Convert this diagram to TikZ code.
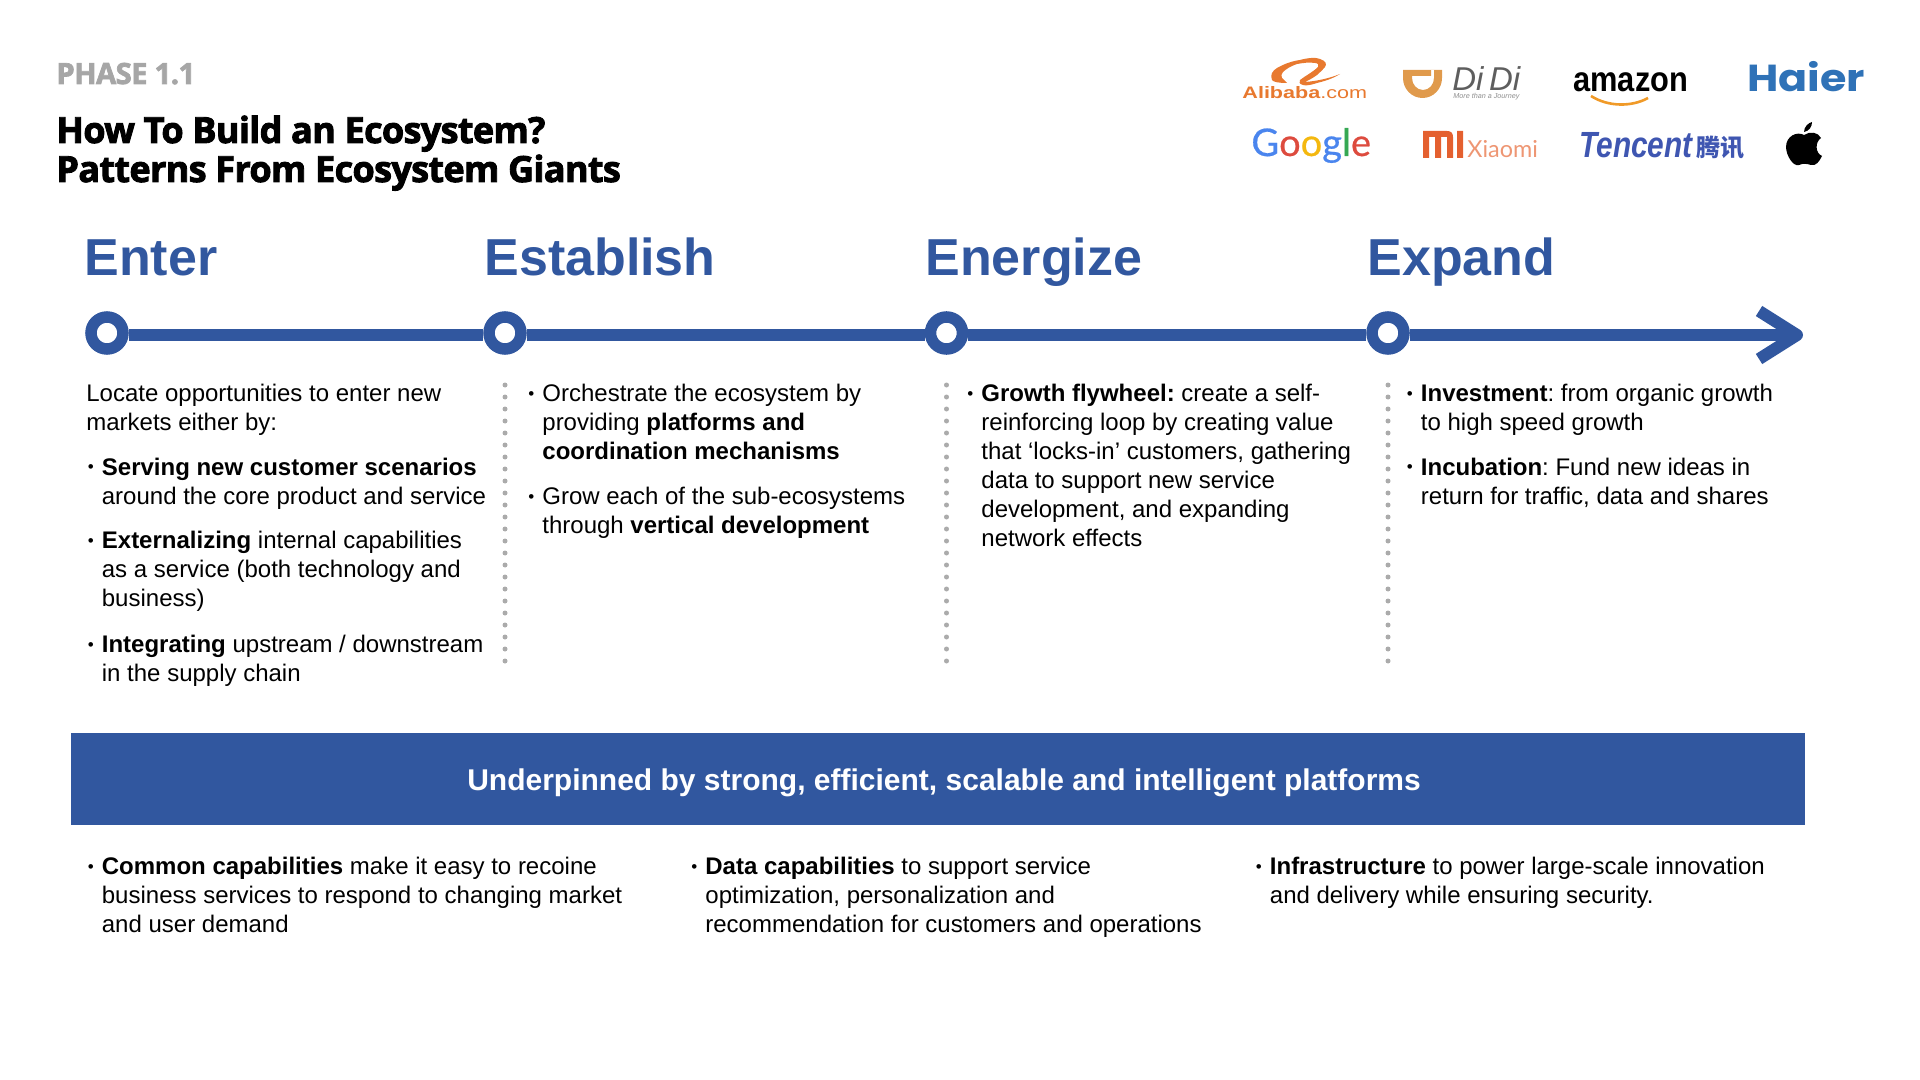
\documentclass[tikz,border=0pt]{standalone}
\usepackage{fontspec}
\setmainfont{Liberation Sans}
\newfontfamily\titlefont[FakeBold=2.5,LetterSpace=-1.8]{Open Sans}
\newfontfamily\googlefont[FakeBold=0.6]{Lato}
\newfontfamily\xiaomifont{Lato}
\newfontfamily\haierfont[FakeStretch=1.14]{Poppins}
\newfontfamily\widefont[FakeStretch=1.3]{Liberation Sans}
\newfontfamily\narrowfont[FakeStretch=0.82]{Liberation Sans}
\newfontfamily\amazonfont[FakeStretch=0.88]{Liberation Sans}
\newfontfamily\cjk{Noto Sans CJK SC}
\definecolor{planblue}{HTML}{31579F}
\definecolor{dotgrey}{HTML}{ABABAB}
\definecolor{phasegrey}{HTML}{A6A6A6}
\definecolor{aliorange}{HTML}{E8792F}
\definecolor{didiorange}{HTML}{E09A4C}
\definecolor{didigrey}{HTML}{5E5E5E}
\definecolor{amzorange}{HTML}{F09A28}
\definecolor{haierblue}{HTML}{2F72B7}
\definecolor{gblue}{HTML}{4A85EE}
\definecolor{gred}{HTML}{DD4B3E}
\definecolor{gyellow}{HTML}{F4B80F}
\definecolor{ggreen}{HTML}{35A853}
\definecolor{mired}{HTML}{E4602F}
\definecolor{mipale}{HTML}{EE9673}
\definecolor{tencentblue}{HTML}{3F56B1}
\newcommand{\blt}{\strut\llap{{\fontsize{8.5}{8}\selectfont\raisebox{1.2pt}{•}}\hspace{4pt}}}
\tikzset{
    bodytext/.style={align=left, anchor=north west, inner sep=0pt, font=\fontsize{12}{14.47}\selectfont},
    stagehead/.style={anchor=base west, inner sep=0pt, text=planblue, font=\fontsize{26}{30}\selectfont\bfseries},
    stagedot/.style={circle, draw=planblue, fill=white, line width=5.75pt, minimum size=16pt, inner sep=0pt},
    timeline/.style={draw=planblue, line width=6pt},
    dotrule/.style={draw=dotgrey, line width=2.5pt, line cap=round, dash pattern=on 0pt off 6pt},
    logotext/.style={anchor=base west, inner sep=0pt},
}
\begin{document}
\frenchspacing
\begin{tikzpicture}[x=0.5pt,y=-0.5pt]
    \useasboundingbox (0,0) rectangle (1920,1080);

    % Heading
    \node[anchor=base west, inner sep=0pt, text=phasegrey, font=\titlefont\fontsize{14.6}{16}\selectfont\bfseries] (phase) at (56,84) {PHASE 1.1};
    \node[anchor=base west, inner sep=0pt, font=\titlefont\fontsize{18}{19.5}\selectfont\bfseries] (titleone) at (56,143) {How To Build an Ecosystem?};
    \node[anchor=base west, inner sep=0pt, font=\titlefont\fontsize{18}{19.5}\selectfont\bfseries] (titletwo) at (56,182) {Patterns From Ecosystem Giants};

    % Logos, top row
    \node[logotext, text=aliorange, font=\widefont\fontsize{8.3}{10}\selectfont] (alibaba) at (1242,99) {\textbf{Alibaba}.com};
    \fill[aliorange] (1287,83) .. controls (1279,83) and (1273,82) .. (1272,80) .. controls (1270,75) and (1272,71) .. (1277,68) .. controls (1284,64) and (1292,61) .. (1300,60) .. controls (1307,58) and (1316,57) .. (1320,59) .. controls (1326,61) and (1327,64) .. (1325,67) .. controls (1323,70) and (1320,72) .. (1317,75) .. controls (1313,78) and (1309,80) .. (1305,82) .. controls (1318,81) and (1330,78) .. (1340,74) .. controls (1332,79) and (1325,81) .. (1317,83) .. controls (1311,85) and (1306,86) .. (1303,85) .. controls (1299,84) and (1299,82) .. (1300,80) .. controls (1305,76) and (1313,72) .. (1318,67) .. controls (1319,65) and (1318,63) .. (1315,63) .. controls (1309,62) and (1303,63) .. (1297,64) .. controls (1291,66) and (1286,69) .. (1283,72) .. controls (1281,74) and (1281,76) .. (1282,78) -- cycle;
    \fill[didiorange, even odd rule] (1403,70) -- (1442,70) -- (1442,78) arc[start angle=0, end angle=180, x radius=19.5, y radius=20] -- cycle
        (1412,76) -- (1431,76) -- (1431,70) -- (1434,70) -- (1434,78) arc[start angle=0, end angle=180, x radius=11, y radius=12] -- cycle;
    \node[logotext, text=didigrey, font=\fontsize{16.5}{18}\selectfont\itshape] (didi) at (1452,91) {Di\,Di};
    \node[logotext, text=didigrey!70, font=\fontsize{3.6}{4}\selectfont\itshape] (didisub) at (1453,99) {More than a Journey};
    \node[logotext, font=\amazonfont\fontsize{17.5}{18}\selectfont\bfseries] (amazon) at (1573,92) {amazon};
    \draw[amzorange, line width=1.3pt] (1591,96) .. controls (1608,107) and (1632,107) .. (1648,98);
    \node[logotext, text=haierblue, font=\haierfont\fontsize{18.8}{20}\selectfont\bfseries] (haier) at (1747,92) {Haier};

    % Logos, bottom row
    \node[logotext, font=\googlefont\fontsize{19}{20}\selectfont] (google) at (1251,156) {\textcolor{gblue}{G}\textcolor{gred}{o}\textcolor{gyellow}{o}\textcolor{gblue}{g}\textcolor{ggreen}{l}\textcolor{gred}{e}};
    \fill[mired] (1423,131) -- (1447,131) .. controls (1451,131) and (1453,133) .. (1453,137) -- (1453,158) -- (1447,158) -- (1447,137) -- (1441,137) -- (1441,158) -- (1435,158) -- (1435,137) -- (1429,137) -- (1429,158) -- (1423,158) -- cycle
        (1457,131) rectangle (1463,158);
    \node[logotext, text=mipale, font=\xiaomifont\fontsize{11.7}{13}\selectfont] (xiaomi) at (1467,158) {Xiaomi};
    \node[logotext, text=tencentblue, font=\narrowfont\fontsize{18.2}{20}\selectfont\bfseries\itshape] (tencent) at (1579,158) {Tencent};
    \node[logotext, text=tencentblue, font=\cjk\fontsize{12}{13}\selectfont\bfseries] (tencentcn) at (1696,156.5) {腾讯};
    \fill (1804,135) .. controls (1810,131) and (1818,132) .. (1821,138) .. controls (1815,142) and (1815,153) .. (1822,156) .. controls (1819,162) and (1816,166) .. (1811,165) .. controls (1808,164) and (1803,163) .. (1799,165) .. controls (1793,167) and (1786,155) .. (1786,147) .. controls (1786,136) and (1797,131) .. (1804,135) -- cycle
        (1804,132) .. controls (1804,127) and (1808,123) .. (1812,122) .. controls (1812,127) and (1809,131) .. (1804,132) -- cycle;

    % Stage names
    \node[stagehead] (enter) at (84,276) {Enter};
    \node[stagehead] (establish) at (484,276) {Establish};
    \node[stagehead] (energize) at (925,276) {Energize};
    \node[stagehead] (expand) at (1367,276) {Expand};

    % Timeline
    \node[stagedot] (dotenter) at (107,333) {};
    \node[stagedot] (dotestablish) at (505,333) {};
    \node[stagedot] (dotenergize) at (946.5,333) {};
    \node[stagedot] (dotexpand) at (1388,333) {};
    \coordinate (tip) at (1797,335);
    \coordinate (armtop) at (1759,311);
    \coordinate (armbot) at (1759,359);
    \draw[timeline] ([yshift=-1pt]dotenter.east) -- ([yshift=-1pt]dotestablish.west);
    \draw[timeline] ([yshift=-1pt]dotestablish.east) -- ([yshift=-1pt]dotenergize.west);
    \draw[timeline] ([yshift=-1pt]dotenergize.east) -- ([yshift=-1pt]dotexpand.west);
    \draw[timeline] ([yshift=-1pt]dotexpand.east) -- (tip);
    \draw[timeline, line join=round] (armtop) -- (tip) -- (armbot);

    % Dotted rules
    \coordinate (ruleonetop) at (505,385);
    \coordinate (ruleonebot) at (505,662);
    \coordinate (ruletwotop) at (946.5,385);
    \coordinate (ruletwobot) at (946.5,662);
    \coordinate (rulethreetop) at (1388,385);
    \coordinate (rulethreebot) at (1388,662);
    \draw[dotrule] (ruleonetop) -- (ruleonebot);
    \draw[dotrule] (ruletwotop) -- (ruletwobot);
    \draw[dotrule] (rulethreetop) -- (rulethreebot);

    % Enter
    \node[bodytext] (enterintro) at (86,381) {\strut Locate opportunities to enter new\\markets either by:};
    \node[bodytext] (enterone) at (101.5,454.6) {\blt\textbf{Serving new customer scenarios}\\around the core product and service};
    \node[bodytext] (entertwo) at (101.5,528) {\blt\textbf{Externalizing} internal capabilities\\as a service (both technology and\\business)};
    \node[bodytext] (enterthree) at (101.5,632) {\blt\textbf{Integrating} upstream / downstream\\in the supply chain};

    % Establish
    \node[bodytext] (estone) at (542,381) {\blt Orchestrate the ecosystem by\\providing \textbf{platforms and}\\\textbf{coordination mechanisms}};
    \node[bodytext] (esttwo) at (542,484) {\blt Grow each of the sub-ecosystems\\through \textbf{vertical development}};

    % Energize
    \node[bodytext] (energone) at (981,381) {\blt\textbf{Growth flywheel:} create a self-\\reinforcing loop by creating value\\that ‘locks-in’ customers, gathering\\data to support new service\\development, and expanding\\network effects};

    % Expand
    \node[bodytext] (expone) at (1420.5,381) {\blt\textbf{Investment}: from organic growth\\to high speed growth};
    \node[bodytext] (exptwo) at (1420.5,454.6) {\blt\textbf{Incubation}: Fund new ideas in\\return for traffic, data and shares};

    % Platform band
    \node[fill=planblue, text=white, inner sep=0pt, minimum width=867pt, minimum height=46pt, text height=11pt, text depth=0pt, font=\fontsize{15}{16}\selectfont\bfseries] (band) at (938,779) {\hspace*{6pt}Underpinned by strong, efficient, scalable and intelligent platforms};

    % Capabilities
    \node[bodytext] (capone) at (101.5,854) {\blt\textbf{Common capabilities} make it easy to recoine\\business services to respond to changing market\\and user demand};
    \node[bodytext] (captwo) at (705,854) {\blt\textbf{Data capabilities} to support service\\optimization, personalization and\\recommendation for customers and operations};
    \node[bodytext] (capthree) at (1269.5,854) {\blt\textbf{Infrastructure} to power large-scale innovation\\and delivery while ensuring security.};
\end{tikzpicture}
\end{document}
